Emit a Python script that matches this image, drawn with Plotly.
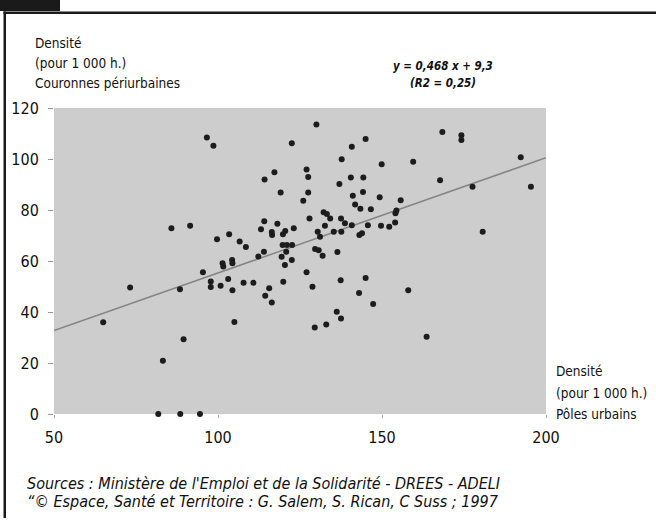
import plotly.graph_objects as go

# Densité (pour 1 000 h.) — Pôles urbains (x) vs Couronnes périurbaines (y)
x_poles = [
    96.6, 98.6, 130.0, 122.5, 127.0, 127.5, 114.2, 117.2, 119.1, 127.5,
    126.0, 127.9, 132.2, 133.2, 132.6, 130.4, 131.1, 85.8, 91.5, 99.7,
    103.4, 106.6, 108.5, 114.1, 113.1, 118.1, 116.4, 116.5, 120.5, 119.8,
    123.1, 119.7, 121.0, 122.6, 119.4, 120.8, 122.5, 120.4, 114.0, 112.3,
    129.6, 130.7, 131.9, 127.0, 119.9, 128.8, 115.6, 114.4, 116.4, 110.8,
    107.8, 104.4, 103.1, 100.8, 97.8, 97.8, 95.4, 101.4, 101.6, 104.3,
    104.4, 88.4, 73.2, 65.0, 105.0, 129.5, 133.0, 83.2, 89.5, 81.8,
    88.5, 94.5, 168.4, 174.2, 174.2, 145.0, 140.8, 137.7, 149.9, 159.5,
    192.3, 195.4, 167.7, 177.6, 140.5, 144.3, 137.0, 144.2, 141.1, 149.3,
    155.7, 141.8, 143.4, 146.6, 154.4, 154.1, 134.2, 137.5, 138.7, 140.8,
    145.7, 149.7, 152.2, 154.0, 135.3, 137.6, 143.1, 143.9, 136.4, 180.7,
    137.4, 145.0, 143.0, 158.0, 147.3, 136.2, 137.5, 163.6,
]
y_couronnes = [
    108.4, 105.2, 113.5, 106.2, 95.9, 92.9, 92.0, 94.8, 86.9, 86.9,
    83.6, 76.7, 79.1, 78.4, 73.8, 71.5, 69.5, 72.8, 73.8, 68.5,
    70.5, 67.6, 65.5, 75.6, 72.5, 74.6, 71.4, 70.2, 71.8, 70.5,
    72.8, 66.3, 66.3, 66.3, 61.7, 63.6, 60.4, 58.4, 63.6, 61.8,
    64.7, 64.2, 62.1, 55.6, 51.9, 49.9, 49.3, 46.4, 43.7, 51.5,
    51.5, 48.5, 52.9, 50.3, 52.0, 49.8, 55.6, 59.1, 57.8, 60.4,
    59.1, 48.9, 49.6, 36.0, 36.1, 33.9, 35.1, 20.9, 29.3, 0.0,
    0.0, 0.0, 110.6, 109.3, 107.5, 107.8, 104.8, 99.9, 97.9, 98.9,
    100.7, 89.1, 91.7, 89.1, 92.7, 92.7, 90.2, 87.1, 85.6, 85.0,
    83.8, 82.2, 80.5, 80.3, 79.8, 78.7, 76.7, 76.7, 74.8, 74.0,
    74.0, 73.8, 73.4, 75.1, 71.5, 71.5, 70.2, 70.9, 63.5, 71.5,
    52.5, 53.3, 47.5, 48.5, 43.1, 40.1, 37.5, 30.3,
]

# Trend line end points as drawn (y = 0,468 x + 9,3)
trend_x = [50, 200]
trend_y = [32.7, 100.5]

x_ticks = [50, 100, 150, 200]
y_ticks = [0, 20, 40, 60, 80, 100, 120]

y_title_lines = ["Densité", "(pour 1 000 h.)", "Couronnes périurbaines"]
x_title_lines = ["Densité", "(pour 1 000 h.)", "Pôles urbains"]
equation_lines = ["y = 0,468 x + 9,3", "(R2 = 0,25)"]
source_lines = [
    "Sources : Ministère de l'Emploi et de la Solidarité - DREES - ADELI",
    "“© Espace, Santé et Territoire : G. Salem, S. Rican, C Suss ; 1997",
]

FONT = "DejaVu Sans Condensed, Liberation Sans, sans-serif"

W, H = 656, 525
L, R, T, B = 54, 546, 108, 414  # plot area in px


def px(xp):
    return (xp - L) / (R - L)


def py(yp):
    return (B - yp) / (B - T)


fig = go.Figure()
fig.add_trace(go.Scatter(
    x=trend_x, y=trend_y, mode="lines",
    line=dict(color="#858585", width=1.5), hoverinfo="skip", showlegend=False,
))
fig.add_trace(go.Scatter(
    x=x_poles, y=y_couronnes, mode="markers",
    marker=dict(color="#1c1c1c", size=6, symbol="circle"),
    cliponaxis=False, showlegend=False,
))

fig.update_layout(
    width=W, height=H,
    margin=dict(l=L, r=W - R, t=T, b=H - B, pad=0),
    paper_bgcolor="white", plot_bgcolor="#cdcdcd",
    font=dict(family=FONT, size=13, color="#111"),
    xaxis=dict(range=[50, 200], tickvals=x_ticks, showgrid=False, zeroline=False,
               showline=False, ticks="outside", ticklen=3, tickcolor="#aaa",
               tickfont=dict(size=16), ticklabelstandoff=6),
    yaxis=dict(range=[0, 120], tickvals=y_ticks, showgrid=False, zeroline=False,
               showline=False, ticks="outside", ticklen=5, tickcolor="#999",
               tickfont=dict(size=16), ticklabelstandoff=6),
)

frame = dict(type="rect", xref="paper", yref="paper", fillcolor="#1a1a1a",
             line=dict(width=0), layer="above")
shapes = [
    # black tab top-left
    dict(frame, x0=px(0), x1=px(60), y0=py(11), y1=py(0)),
    # frame top line
    dict(frame, x0=px(3.5), x1=px(656), y0=py(14), y1=py(11.5)),
    # frame left line
    dict(frame, x0=px(3.5), x1=px(6), y0=py(518), y1=py(11.5)),
]
fig.update_layout(shapes=shapes)

ann = []
for i, t in enumerate(y_title_lines):
    ann.append(dict(text=t, x=px(33), y=py(43 + 20 * i), xanchor="left", yanchor="middle",
                    font=dict(size=13.5)))
for i, t in enumerate(x_title_lines):
    ann.append(dict(text=t, x=px(554), y=py(371 + 21.5 * i), xanchor="left", yanchor="middle",
                    font=dict(size=13.5)))
for i, t in enumerate(equation_lines):
    ann.append(dict(text="<b><i>" + t + "</i></b>", x=px(443), y=py(66 + 17 * i),
                    xanchor="center", yanchor="middle", font=dict(size=11.5)))
for i, t in enumerate(source_lines):
    ann.append(dict(text="<i>" + t + "</i>", x=px(25), y=py(483.5 + 18 * i),
                    xanchor="left", yanchor="middle", font=dict(size=16)))
for a in ann:
    a.update(xref="paper", yref="paper", showarrow=False)
fig.update_layout(annotations=ann)

fig.write_html(
    "out.html",
    config={"displayModeBar": False},
    post_script="document.body.style.margin='0px';document.body.style.overflow='hidden';",
)
